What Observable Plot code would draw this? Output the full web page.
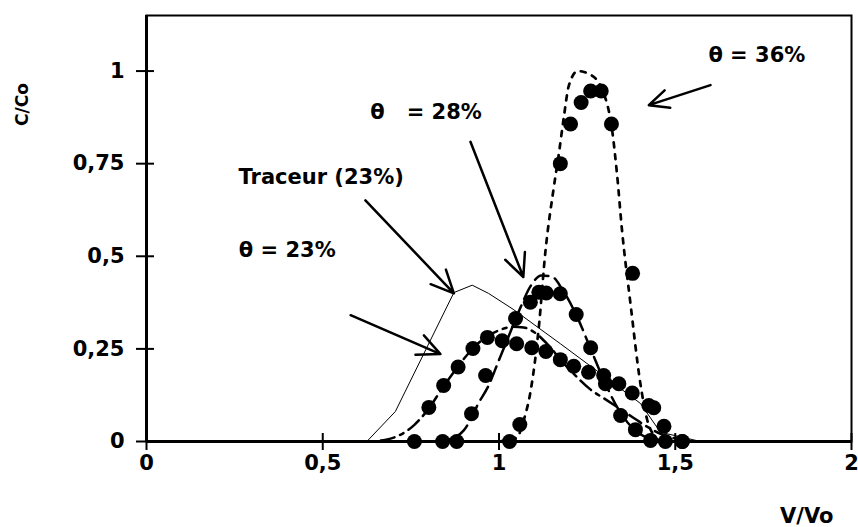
<!DOCTYPE html>
<html><head><meta charset="utf-8">
<script src="https://cdn.jsdelivr.net/npm/d3@7"></script>
<script src="https://cdn.jsdelivr.net/npm/@observablehq/plot@0.6"></script>
<style>
body{margin:0;background:#fff;}
#chart svg{display:block;}
</style></head><body><div id="chart"></div>
<script>
// Axis ticks
const xTicks = [0, 0.5, 1, 1.5, 2];
const yTicks = [0, 0.25, 0.5, 0.75, 1];

// Tracer (23%) – thin solid line
const tracerX = [0.59, 0.625, 0.706, 0.872, 0.924, 0.97, 1.04, 1.174, 1.3, 1.401, 1.458, 1.572];
const tracerY = [0, 0, 0.081, 0.402, 0.422, 0.4, 0.357, 0.264, 0.175, 0.103, 0.025, 0];

// θ = 23% fitted curve (dash-dot) and measured points
const fit23X = [0.58, 0.63, 0.68, 0.72, 0.76, 0.8, 0.84, 0.88, 0.92, 0.96, 1.0, 1.04, 1.07, 1.1, 1.14, 1.18, 1.22, 1.26, 1.3, 1.34, 1.38, 1.42, 1.46, 1.5, 1.55];
const fit23Y = [0, 0, 0.005, 0.018, 0.045, 0.088, 0.145, 0.198, 0.245, 0.28, 0.3, 0.31, 0.308, 0.295, 0.26, 0.215, 0.175, 0.14, 0.115, 0.09, 0.065, 0.04, 0.02, 0.008, 0];
const pts23X = [0.801, 0.843, 0.884, 0.926, 0.967, 1.009, 1.050, 1.093, 1.133, 1.174, 1.212, 1.254, 1.297, 1.34, 1.378, 1.425, 1.468, 1.52];
const pts23Y = [0.092, 0.151, 0.201, 0.251, 0.281, 0.272, 0.264, 0.253, 0.243, 0.221, 0.203, 0.187, 0.178, 0.156, 0.131, 0.097, 0.041, 0];

// θ = 28% fitted curve (long dash) and measured points
const fit28X = [0.82, 0.87, 0.9, 0.92, 0.94, 0.97, 1.0, 1.03, 1.06, 1.09, 1.12, 1.15, 1.18, 1.22, 1.26, 1.3, 1.34, 1.38, 1.42, 1.46];
const fit28Y = [0, 0.01, 0.03, 0.06, 0.1, 0.15, 0.22, 0.29, 0.36, 0.42, 0.448, 0.445, 0.41, 0.34, 0.25, 0.16, 0.085, 0.035, 0.01, 0];
const pts28X = [0.76, 0.84, 0.88, 0.922, 0.962, 1.047, 1.089, 1.113, 1.134, 1.174, 1.219, 1.26, 1.302, 1.345, 1.387, 1.43, 1.472];
const pts28Y = [0, 0, 0, 0.075, 0.178, 0.332, 0.376, 0.403, 0.401, 0.399, 0.343, 0.253, 0.156, 0.07, 0.032, 0.003, 0];

// θ = 36% fitted curve (dotted) and measured points
const fit36X = [1.0, 1.05, 1.07, 1.09, 1.113, 1.132, 1.155, 1.17, 1.184, 1.198, 1.223, 1.26, 1.297, 1.321, 1.335, 1.349, 1.373, 1.401, 1.42, 1.44, 1.46];
const fit36Y = [0, 0.01, 0.057, 0.138, 0.309, 0.516, 0.683, 0.778, 0.876, 0.96, 1.0, 0.99, 0.94, 0.84, 0.72, 0.57, 0.372, 0.157, 0.06, 0.015, 0];
const pts36X = [1.03, 1.059, 1.174, 1.203, 1.233, 1.26, 1.29, 1.319, 1.379, 1.439, 1.52];
const pts36Y = [0, 0.046, 0.75, 0.857, 0.915, 0.946, 0.946, 0.857, 0.454, 0.091, 0];

// Annotations (data coordinates)
const labelText = ["θ = 36%", "θ\u00a0\u00a0\u00a0= 28%", "Traceur (23%)", "θ = 23%"];
const labelX = [1.594, 0.635, 0.261, 0.262];
const labelY = [1.043, 0.89, 0.714, 0.516];

const arrowX1 = [1.6, 0.919, 0.621, 0.579];
const arrowY1 = [0.962, 0.809, 0.651, 0.341];
const arrowX2 = [1.425, 1.069, 0.872, 0.834];
const arrowY2 = [0.908, 0.444, 0.4, 0.236];

const pts = (xs, ys) => xs.map((x, i) => ({x, y: ys[i]}));
const labels = labelText.map((t, i) => ({t, x: labelX[i], y: labelY[i]}));
const arrows = arrowX1.map((x1, i) => ({x1, y1: arrowY1[i], x2: arrowX2[i], y2: arrowY2[i]}));
const fmt = d => String(d).replace(".", ",");

const plot = Plot.plot({
  width: 858, height: 527,
  marginLeft: 146, marginRight: 7, marginTop: 15, marginBottom: 86,
  style: {fontFamily: "'DejaVu Sans', sans-serif", fontWeight: "bold", fontSize: "21px", color: "black", background: "white", overflow: "visible"},
  x: {domain: [0, 2], label: null},
  y: {domain: [0, 1.15], label: null},
  marks: [
    Plot.frame({stroke: "black", strokeWidth: 2}),
    Plot.axisX(xTicks, {tickSize: 0, tickPadding: 14, tickFormat: fmt, label: null}),
    Plot.axisX(xTicks, {tickSize: 17, dy: -8, tickFormat: () => "", label: null, strokeWidth: 2}),
    Plot.axisY(yTicks, {tickSize: 0, tickPadding: 22, tickFormat: fmt, label: null}),
    Plot.axisY(yTicks, {tickSize: 18, dx: 8, tickFormat: () => "", label: null, strokeWidth: 2}),
    Plot.ruleX([0], {stroke: "black", strokeWidth: 3}),
    Plot.ruleY([0], {stroke: "black", strokeWidth: 3}),
    Plot.line(pts(tracerX, tracerY), {x: "x", y: "y", stroke: "black", strokeWidth: 1}),
    Plot.line(pts(fit23X, fit23Y), {x: "x", y: "y", stroke: "black", strokeWidth: 2.5, strokeDasharray: "14,6,4,6", curve: "monotone-x"}),
    Plot.line(pts(fit28X, fit28Y), {x: "x", y: "y", stroke: "black", strokeWidth: 2.5, strokeDasharray: "15,7", curve: "monotone-x"}),
    Plot.line(pts(fit36X, fit36Y), {x: "x", y: "y", stroke: "black", strokeWidth: 2.7, strokeDasharray: "5,7", curve: "monotone-x"}),
    Plot.dot(pts(pts23X, pts23Y), {x: "x", y: "y", r: 7.5, fill: "black"}),
    Plot.dot(pts(pts28X, pts28Y), {x: "x", y: "y", r: 7.5, fill: "black"}),
    Plot.dot(pts(pts36X, pts36Y), {x: "x", y: "y", r: 7.5, fill: "black"}),
    Plot.arrow(arrows, {x1: "x1", y1: "y1", x2: "x2", y2: "y2", stroke: "black", strokeWidth: 2.5, headLength: 15, headAngle: 50}),
    Plot.text(labels, {x: "x", y: "y", text: "t", textAnchor: "start", lineAnchor: "middle", fill: "black"}),
    Plot.text(["V/Vo"], {frameAnchor: "bottom-right", dx: -18, dy: 75, textAnchor: "end", lineAnchor: "middle", fill: "black"}),
    Plot.text(["C/Co"], {frameAnchor: "top-left", dx: -124, dy: 89, rotate: -90, textAnchor: "middle", lineAnchor: "middle", fill: "black", fontSize: 17})
  ]
});
document.getElementById("chart").appendChild(plot);
</script></body></html>
